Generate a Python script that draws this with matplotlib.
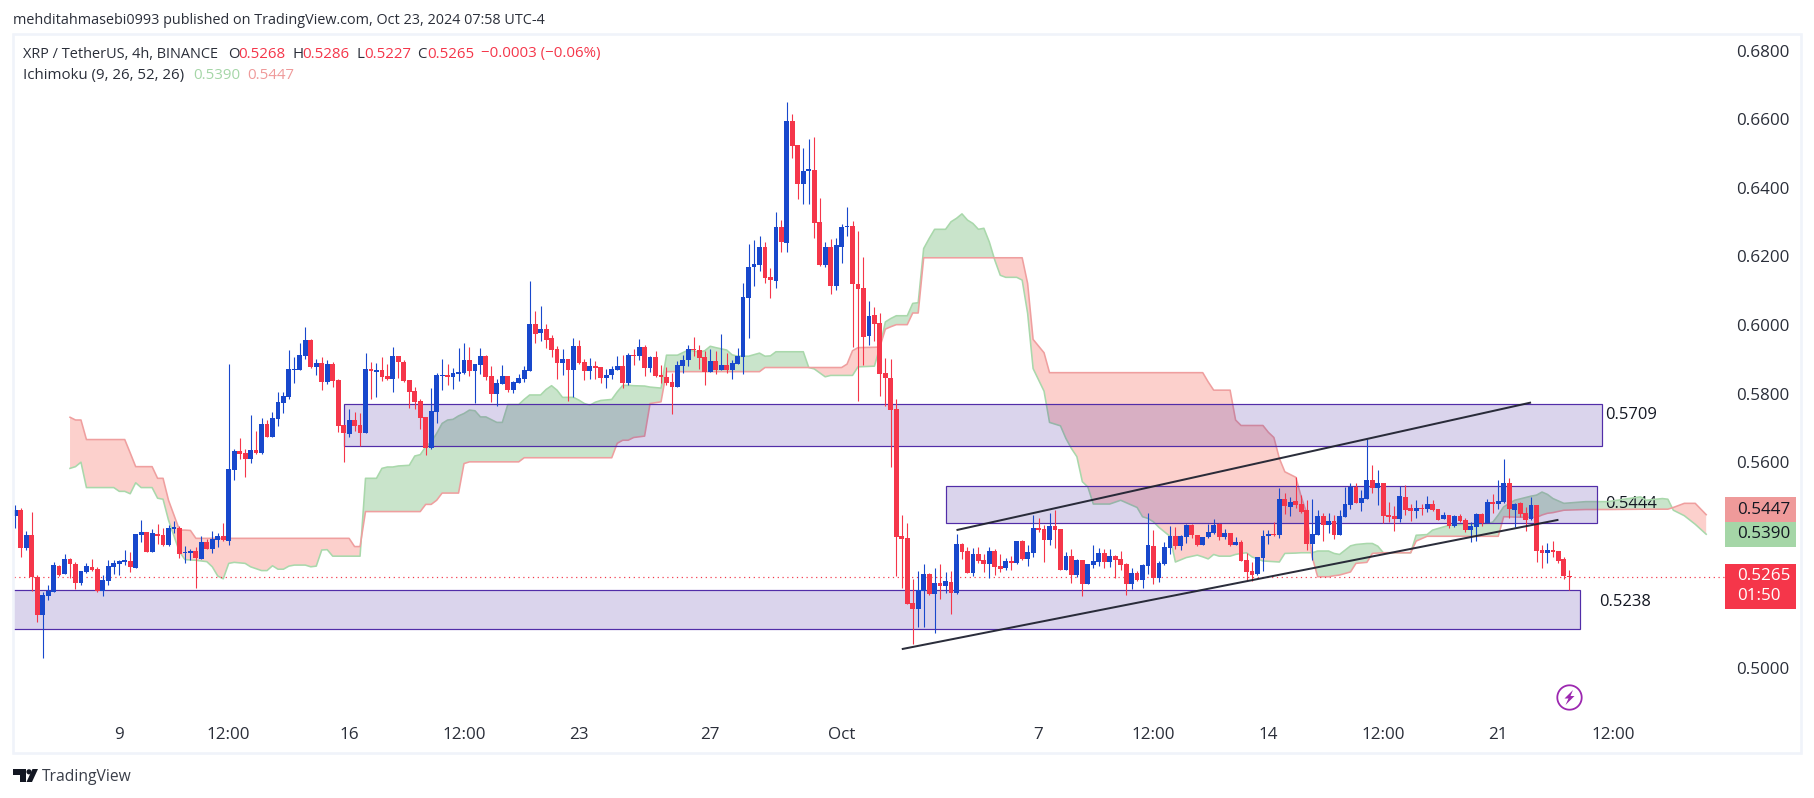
import numpy as np
import matplotlib
matplotlib.use("Agg")
import matplotlib.pyplot as plt
from matplotlib.patches import Rectangle, Polygon

plt.rcParams["font.family"] = ["Open Sans", "DejaVu Sans"]

# 4h candles, prices
opens = [
    .5443, .5460, .5350, .5387, .5266, .5155, .5210, .5222, .5297, .5274,
    .5317, .5303, .5247, .5279, .5293, .5288, .5225, .5253, .5294, .5303,
    .5309, .5311, .5291, .5387, .5396, .5338, .5390, .5387, .5358, .5405,
    .5408, .5336, .5335, .5341, .5317, .5367, .5346, .5373, .5384, .5370,
    .5577, .5632, .5626, .5609, .5635, .5626, .5711, .5673, .5725, .5772,
    .5790, .5868, .5868, .5909, .5956, .5877, .5889, .5833, .5886, .5839,
    .5708, .5682, .5723, .5708, .5685, .5871, .5863, .5868, .5851, .5842,
    .5909, .5892, .5839, .5807, .5778, .5731, .5641, .5746, .5851, .5854,
    .5848, .5857, .5860, .5898, .5865, .5883, .5909, .5851, .5798, .5828,
    .5851, .5810, .5830, .5842, .5865, .6002, .5976, .5988, .5962, .5930,
    .5889, .5900, .5868, .5938, .5892, .5865, .5880, .5877, .5845, .5854,
    .5868, .5880, .5830, .5912, .5909, .5935, .5874, .5906, .5854, .5848,
    .5833, .5819, .5880, .5898, .5930, .5927, .5906, .5863, .5895, .5868,
    .5883, .5868, .5886, .5906, .6078, .6169, .6175, .6227, .6140, .6128,
    .6285, .6239, .6594, .6524, .6411, .6449, .6452, .6300, .6175, .6227,
    .6113, .6227, .6285, .6288, .6119, .6107, .5968, .6029, .6005, .5860,
    .5845, .5755, .5384, .5379, .5189, .5172, .5224, .5274, .5215, .5247,
    .5239, .5250, .5218, .5361, .5341, .5277, .5332, .5314, .5303, .5341,
    .5297, .5291, .5312, .5306, .5370, .5317, .5335, .5408, .5405, .5373,
    .5414, .5405, .5285, .5326, .5271, .5314, .5244, .5300, .5309, .5335,
    .5309, .5326, .5317, .5303, .5244, .5277, .5256, .5297, .5355, .5262,
    .5303, .5349, .5384, .5355, .5381, .5416, .5387, .5358, .5381, .5393,
    .5419, .5381, .5393, .5358, .5367, .5314, .5282, .5274, .5320, .5384,
    .5390, .5387, .5492, .5469, .5486, .5478, .5460, .5361, .5387, .5443,
    .5416, .5428, .5387, .5440, .5475, .5527, .5481, .5492, .5548, .5524,
    .5539, .5446, .5443, .5434, .5498, .5466, .5457, .5466, .5463, .5478,
    .5463, .5434, .5446, .5414, .5443, .5431, .5402, .5411, .5449, .5422,
    .5484, .5478, .5484, .5539, .5460, .5481, .5451, .5434, .5475, .5344,
    .5335, .5344, .5341, .5317, .5268,
]
highs = [
    .5475, .5466, .5399, .5454, .5271, .5222, .5241, .5309, .5300, .5332,
    .5320, .5309, .5282, .5305, .5317, .5293, .5271, .5314, .5314, .5314,
    .5344, .5338, .5392, .5431, .5396, .5405, .5419, .5408, .5416, .5428,
    .5414, .5355, .5346, .5352, .5384, .5376, .5399, .5393, .5422, .5886,
    .5638, .5670, .5638, .5737, .5691, .5728, .5723, .5746, .5804, .5804,
    .5927, .5906, .5947, .5994, .5959, .5900, .5906, .5898, .5892, .5842,
    .5708, .5755, .5746, .5743, .5918, .5892, .5889, .5906, .5886, .5935,
    .5909, .5898, .5839, .5819, .5784, .5731, .5816, .5860, .5900, .5886,
    .5874, .5933, .5947, .5935, .5886, .5932, .5912, .5880, .5842, .5883,
    .5851, .5836, .5857, .5880, .6128, .6040, .6055, .6002, .5970, .5938,
    .5930, .5900, .5962, .5956, .5900, .5903, .5895, .5877, .5871, .5880,
    .5909, .5912, .5918, .5930, .5959, .5941, .5909, .5924, .5883, .5877,
    .5860, .5895, .5912, .5941, .5965, .5941, .5924, .5930, .5924, .5973,
    .5918, .5898, .5932, .6122, .6236, .6247, .6259, .6242, .6166, .6329,
    .6306, .6650, .6615, .6524, .6516, .6542, .6548, .6370, .6242, .6250,
    .6253, .6294, .6344, .6303, .6274, .6198, .6070, .6052, .6035, .5903,
    .5900, .5784, .5446, .5422, .5259, .5282, .5303, .5277, .5291, .5303,
    .5279, .5282, .5390, .5364, .5352, .5349, .5352, .5332, .5352, .5346,
    .5332, .5320, .5326, .5370, .5373, .5358, .5446, .5437, .5416, .5451,
    .5460, .5405, .5338, .5346, .5317, .5314, .5303, .5358, .5349, .5346,
    .5346, .5329, .5341, .5306, .5291, .5282, .5303, .5451, .5402, .5312,
    .5367, .5414, .5411, .5387, .5419, .5419, .5387, .5381, .5419, .5434,
    .5422, .5405, .5393, .5381, .5373, .5335, .5309, .5323, .5402, .5402,
    .5425, .5524, .5510, .5498, .5556, .5504, .5489, .5492, .5460, .5451,
    .5451, .5446, .5460, .5527, .5539, .5539, .5519, .5667, .5591, .5577,
    .5539, .5484, .5472, .5530, .5533, .5478, .5489, .5478, .5501, .5489,
    .5463, .5454, .5446, .5446, .5449, .5437, .5425, .5451, .5451, .5492,
    .5507, .5548, .5609, .5554, .5481, .5484, .5469, .5498, .5475, .5358,
    .5364, .5370, .5341, .5323, .5286,
]
lows = [
    .5409, .5324, .5345, .5225, .5135, .5030, .5198, .5222, .5268, .5274,
    .5263, .5230, .5241, .5277, .5282, .5222, .5210, .5241, .5274, .5271,
    .5300, .5279, .5291, .5367, .5338, .5338, .5361, .5355, .5355, .5393,
    .5320, .5306, .5314, .5233, .5317, .5346, .5335, .5352, .5370, .5358,
    .5548, .5609, .5556, .5597, .5623, .5623, .5673, .5673, .5705, .5743,
    .5784, .5830, .5868, .5900, .5874, .5854, .5810, .5828, .5819, .5688,
    .5600, .5673, .5691, .5647, .5685, .5784, .5790, .5836, .5839, .5804,
    .5845, .5833, .5758, .5755, .5696, .5621, .5638, .5714, .5810, .5825,
    .5813, .5836, .5857, .5851, .5772, .5857, .5839, .5775, .5763, .5828,
    .5804, .5801, .5830, .5833, .5865, .5947, .5953, .5932, .5906, .5842,
    .5854, .5778, .5790, .5886, .5839, .5842, .5842, .5830, .5816, .5842,
    .5868, .5816, .5825, .5883, .5898, .5851, .5863, .5848, .5830, .5825,
    .5740, .5819, .5860, .5880, .5909, .5871, .5825, .5863, .5857, .5868,
    .5860, .5842, .5886, .5857, .5962, .6113, .6157, .6122, .6078, .6107,
    .6212, .6212, .6487, .6367, .6352, .6352, .6253, .6172, .6169, .6090,
    .6102, .6180, .6259, .5935, .5778, .5883, .5941, .5953, .5793, .5763,
    .5586, .5268, .5233, .5186, .5069, .5119, .5119, .5212, .5102, .5201,
    .5218, .5157, .5215, .5317, .5277, .5268, .5306, .5279, .5262, .5271,
    .5279, .5285, .5285, .5303, .5314, .5297, .5323, .5396, .5309, .5358,
    .5349, .5285, .5285, .5247, .5265, .5209, .5244, .5291, .5297, .5291,
    .5294, .5262, .5285, .5212, .5230, .5253, .5233, .5274, .5244, .5250,
    .5300, .5332, .5346, .5344, .5364, .5379, .5355, .5358, .5379, .5390,
    .5373, .5376, .5355, .5358, .5312, .5256, .5253, .5271, .5282, .5361,
    .5384, .5379, .5449, .5443, .5466, .5451, .5344, .5314, .5387, .5370,
    .5393, .5376, .5387, .5440, .5463, .5481, .5457, .5492, .5510, .5475,
    .5422, .5425, .5399, .5425, .5446, .5428, .5437, .5446, .5454, .5457,
    .5431, .5434, .5408, .5411, .5425, .5396, .5367, .5370, .5414, .5422,
    .5451, .5463, .5481, .5437, .5411, .5440, .5399, .5431, .5309, .5291,
    .5306, .5323, .5306, .5259, .5227,
]
closes = [
    .5460, .5350, .5387, .5264, .5155, .5212, .5225, .5300, .5272, .5317,
    .5303, .5247, .5282, .5297, .5285, .5224, .5256, .5297, .5306, .5311,
    .5314, .5294, .5390, .5396, .5338, .5393, .5384, .5358, .5408, .5411,
    .5332, .5338, .5341, .5320, .5367, .5346, .5376, .5384, .5373, .5580,
    .5632, .5623, .5609, .5635, .5626, .5711, .5673, .5728, .5775, .5793,
    .5871, .5871, .5912, .5956, .5877, .5889, .5833, .5886, .5836, .5705,
    .5685, .5723, .5705, .5685, .5871, .5865, .5868, .5848, .5842, .5909,
    .5892, .5836, .5804, .5775, .5728, .5641, .5749, .5854, .5854, .5848,
    .5860, .5863, .5898, .5865, .5886, .5909, .5848, .5798, .5830, .5851,
    .5810, .5833, .5845, .5868, .6002, .5973, .5988, .5956, .5927, .5889,
    .5900, .5868, .5938, .5889, .5865, .5880, .5874, .5845, .5854, .5871,
    .5880, .5830, .5912, .5909, .5935, .5874, .5906, .5851, .5848, .5830,
    .5819, .5883, .5898, .5930, .5927, .5903, .5863, .5895, .5868, .5883,
    .5868, .5889, .5909, .6081, .6169, .6177, .6227, .6137, .6131, .6285,
    .6242, .6594, .6522, .6411, .6449, .6454, .6297, .6175, .6227, .6113,
    .6233, .6285, .6288, .6119, .6105, .5965, .6026, .6002, .5857, .5845,
    .5752, .5381, .5376, .5186, .5172, .5227, .5274, .5215, .5247, .5239,
    .5253, .5218, .5361, .5338, .5277, .5332, .5312, .5303, .5341, .5294,
    .5288, .5312, .5306, .5370, .5317, .5338, .5408, .5402, .5373, .5414,
    .5402, .5285, .5326, .5271, .5314, .5244, .5303, .5312, .5335, .5309,
    .5326, .5314, .5300, .5244, .5277, .5256, .5300, .5358, .5262, .5306,
    .5352, .5384, .5355, .5384, .5416, .5387, .5358, .5381, .5396, .5416,
    .5381, .5393, .5358, .5367, .5312, .5279, .5271, .5323, .5384, .5390,
    .5387, .5492, .5472, .5484, .5475, .5454, .5361, .5390, .5443, .5416,
    .5428, .5387, .5443, .5478, .5527, .5481, .5495, .5548, .5524, .5539,
    .5443, .5440, .5434, .5501, .5460, .5457, .5466, .5463, .5478, .5460,
    .5431, .5446, .5414, .5443, .5428, .5402, .5414, .5449, .5422, .5484,
    .5478, .5486, .5539, .5463, .5478, .5449, .5431, .5475, .5341, .5335,
    .5344, .5338, .5312, .5268, .5265,
]

# Ichimoku cloud, read at the bars where a span changes direction
cloud_bars = [
    11, 12, 13, 14, 19, 20, 21, 22, 23, 24,
    26, 27, 28, 29, 31, 32, 33, 34, 36, 37,
    38, 39, 40, 41, 43, 44, 46, 47, 48, 49,
    50, 51, 52, 54, 55, 56, 57, 58, 59, 62,
    63, 64, 65, 67, 68, 69, 70, 71, 73, 74,
    75, 76, 77, 78, 79, 80, 81, 82, 83, 84,
    85, 86, 87, 89, 90, 91, 93, 94, 95, 97,
    98, 99, 100, 101, 103, 104, 105, 106, 107, 108,
    110, 111, 112, 113, 114, 116, 117, 119, 120, 122,
    124, 126, 127, 128, 129, 131, 132, 133, 135, 137,
    138, 139, 140, 145, 146, 147, 149, 150, 152, 153,
    154, 155, 158, 159, 160, 161, 162, 164, 165, 166,
    167, 168, 169, 171, 172, 173, 174, 175, 176, 177,
    178, 179, 180, 181, 182, 184, 185, 186, 187, 189,
    190, 192, 193, 194, 195, 196, 197, 198, 201, 203,
    205, 206, 207, 208, 209, 210, 212, 213, 215, 217,
    218, 219, 220, 221, 223, 224, 225, 226, 227, 229,
    230, 231, 232, 233, 235, 236, 237, 238, 239, 241,
    242, 243, 245, 246, 248, 249, 250, 251, 256, 257,
    259, 260, 263, 266, 270, 271, 272, 273, 275, 278,
    279, 280, 281, 282, 284, 288, 292, 298, 299, 302,
    303, 304, 306, 308, 310,
]
span_a = [
    .5582, .5587, .5600, .5526, .5526, .5515, .5515, .5508, .5540, .5526,
    .5526, .5495, .5492, .5431, .5339, .5316, .5315, .5314, .5310, .5295,
    .5268, .5260, .5305, .5308, .5305, .5295, .5284, .5284, .5298, .5288,
    .5288, .5297, .5300, .5300, .5295, .5297, .5344, .5345, .5326, .5326,
    .5326, .5326, .5553, .5553, .5582, .5586, .5586, .5589, .5591, .5618,
    .5622, .5645, .5659, .5684, .5713, .5723, .5725, .5735, .5742, .5752,
    .5750, .5732, .5732, .5716, .5716, .5768, .5768, .5783, .5796, .5796,
    .5812, .5823, .5810, .5789, .5789, .5781, .5771, .5766, .5775, .5780,
    .5783, .5805, .5824, .5824, .5823, .5822, .5819, .5816, .5912, .5912,
    .5927, .5921, .5925, .5938, .5934, .5927, .5913, .5909, .5909, .5918,
    .5909, .5910, .5922, .5922, .5876, .5872, .5849, .5853, .5853, .5853,
    .5853, .5878, .5880, .5936, .6009, .6019, .6027, .6027, .6063, .6065,
    .6223, .6252, .6279, .6279, .6301, .6311, .6324, .6306, .6296, .6279,
    .6282, .6242, .6189, .6145, .6139, .6139, .6131, .6034, .5873, .5807,
    .5716, .5706, .5669, .5640, .5616, .5543, .5528, .5478, .5478, .5489,
    .5475, .5468, .5441, .5436, .5426, .5410, .5384, .5309, .5322, .5329,
    .5324, .5318, .5331, .5326, .5326, .5331, .5334, .5336, .5324, .5312,
    .5311, .5310, .5309, .5334, .5335, .5336, .5336, .5336, .5341, .5341,
    .5334, .5331, .5356, .5360, .5363, .5363, .5355, .5336, .5336, .5387,
    .5389, .5402, .5416, .5419, .5422, .5425, .5446, .5470, .5489, .5501,
    .5504, .5513, .5506, .5494, .5480, .5485, .5485, .5499, .5489, .5494,
    .5492, .5460, .5444, .5419, .5390,
]
span_b = [
    .5731, .5723, .5723, .5666, .5666, .5666, .5666, .5627, .5587, .5587,
    .5587, .5553, .5553, .5489, .5402, .5402, .5401, .5378, .5378, .5378,
    .5378, .5378, .5378, .5378, .5378, .5378, .5378, .5378, .5378, .5378,
    .5378, .5378, .5378, .5378, .5378, .5378, .5378, .5378, .5378, .5378,
    .5354, .5354, .5456, .5456, .5456, .5456, .5456, .5456, .5456, .5456,
    .5456, .5477, .5477, .5489, .5510, .5510, .5510, .5510, .5596, .5601,
    .5601, .5601, .5601, .5601, .5601, .5601, .5601, .5613, .5613, .5613,
    .5613, .5613, .5613, .5613, .5613, .5613, .5613, .5613, .5613, .5613,
    .5613, .5655, .5664, .5664, .5672, .5676, .5771, .5776, .5864, .5864,
    .5864, .5864, .5864, .5864, .5864, .5864, .5864, .5864, .5864, .5864,
    .5876, .5876, .5876, .5876, .5876, .5876, .5876, .5876, .5876, .5886,
    .5925, .5934, .5935, .5936, .5988, .5995, .6001, .6001, .6035, .6035,
    .6196, .6196, .6196, .6196, .6196, .6196, .6196, .6196, .6196, .6196,
    .6196, .6196, .6196, .6196, .6196, .6196, .6196, .6121, .5958, .5919,
    .5861, .5861, .5861, .5861, .5861, .5861, .5861, .5861, .5861, .5861,
    .5861, .5861, .5861, .5861, .5861, .5861, .5861, .5861, .5861, .5861,
    .5861, .5834, .5810, .5810, .5810, .5723, .5707, .5707, .5707, .5707,
    .5687, .5672, .5611, .5572, .5556, .5499, .5451, .5324, .5266, .5266,
    .5269, .5271, .5280, .5305, .5308, .5334, .5335, .5336, .5336, .5370,
    .5384, .5384, .5384, .5384, .5384, .5384, .5384, .5441, .5440, .5439,
    .5439, .5446, .5451, .5453, .5460, .5462, .5462, .5463, .5463, .5463,
    .5463, .5468, .5480, .5480, .5447,
]

# drawn zones: first bar, last bar, low, high
zone_starts = [61, 171, 0]
zone_ends = [291, 290, 287]
zone_lows = [.5646, .5424, .5115]
zone_highs = [.5770, .5532, .5226]
zone_texts = ["0.5709", "0.5444", "0.5238"]
zone_text_bars = [291.5, 291.5, 290.4]
zone_text_prices = [.5737, .5479, .5192]

# channel lines: bars and prices at both ends
upper_bars = [173, 278]
upper_prices = [.5402, .5774]
lower_bars = [163, 283]
lower_prices = [.5055, .5432]

last_close = .5265
price_ticks = [.68, .66, .64, .62, .60, .58, .56, .50]
time_ticks = [20, 40, 62, 83, 104, 128, 152, 188, 209, 230, 251, 272, 293]
time_labels = ["9", "12:00", "16", "12:00", "23", "27", "Oct", "7", "12:00", "14", "12:00", "21", "12:00"]

W, H = 1814, 798
BLUE = "#1848cc"
RED = "#f5364a"
INK = "#131722"
GREY = "#2a2e39"


def fx(x):
    return x / W


def fy(y):
    return 1 - y / H


def pt(px):
    return px * 0.72


def pts(*xy):
    return [(fx(x), fy(y)) for x, y in xy]


def circle(cx, cy, r, n=60):
    return pts(*[(cx + r * np.cos(t), cy + r * np.sin(t)) for t in np.linspace(0, 2 * np.pi, n)])


fig = plt.figure(figsize=(W / 100, H / 100), dpi=100, facecolor="white")

# outer frame of the published chart
fig.add_artist(Rectangle((fx(12.5), fy(752.5)), fx(1801 - 12.5), (752.5 - 34) / H,
                         transform=fig.transFigure, fill=False, ec="#f0f3fa", lw=pt(2.6)))

ax = fig.add_axes([fx(14), fy(716), fx(1725 - 14), (716 - 36) / H])
ax.patch.set_alpha(0)
for s in ax.spines.values():
    s.set_visible(False)
ax.set_xlim(0.762, 313.44)
ax.set_ylim(0.486, 0.68426)

# cloud
a = np.array(span_a)
b = np.array(span_b)
ax.fill_between(cloud_bars, a, b, where=a >= b, interpolate=True, color="#c9e4cb", lw=0, zorder=1)
ax.fill_between(cloud_bars, a, b, where=a <= b, interpolate=True, color="#fcd0cc", lw=0, zorder=1)

# zone labels sit under the cloud lines
for t, x, y in zip(zone_texts, zone_text_bars, zone_text_prices):
    ax.text(x, y, t, fontsize=pt(16.5), color=INK, va="center", ha="left", zorder=1.1)

ax.plot(cloud_bars, a, color="#a9d8ab", lw=pt(1.6), zorder=1.2)
ax.plot(cloud_bars, b, color="#ef9f9f", lw=pt(1.6), zorder=1.3)

# zones
for x0, x1, lo, hi in zip(zone_starts, zone_ends, zone_lows, zone_highs):
    ax.add_patch(Rectangle((x0, lo), x1 - x0, hi - lo, fc=(0.29, 0.17, 0.63, 0.2), ec="#512da8",
                           lw=pt(1.2), zorder=2))

ax.axhline(last_close, color=RED, lw=pt(1.2), ls=(0, (1, 3)), zorder=2.5)

# candles
o = np.array(opens)
h = np.array(highs)
l = np.array(lows)
c = np.array(closes)
bars = np.arange(1, len(o) + 1)
colors = np.where(c >= o, BLUE, RED)
ax.vlines(bars, l, h, colors=colors, lw=pt(1.1), zorder=3)
ax.bar(bars, np.abs(c - o), bottom=np.minimum(o, c), width=0.88, color=colors, lw=0, zorder=3.1)

# channel
ax.plot(upper_bars, upper_prices, color="#1f2230", lw=pt(2), alpha=0.95, zorder=4, solid_capstyle="butt")
ax.plot(lower_bars, lower_prices, color="#1f2230", lw=pt(2), alpha=0.95, zorder=4, solid_capstyle="butt")

# axes
ax.yaxis.tick_right()
ax.set_yticks(price_ticks)
ax.set_yticklabels([f"{p:.4f}" for p in price_ticks], fontsize=pt(17), color=GREY)
ax.set_xticks(time_ticks)
ax.set_xticklabels(time_labels, fontsize=pt(17), color=GREY)
ax.tick_params(axis="y", length=0, pad=8)
ax.tick_params(axis="x", length=0, pad=8)

# header
fig.text(fx(13), fy(21), "mehditahmasebi0993 published on TradingView.com, Oct 23, 2024 07:58 UTC-4",
         fontsize=pt(14.4), color=GREY, va="center")
fig.text(fx(23), fy(54), "XRP / TetherUS, 4h, BINANCE", fontsize=pt(14.5), color=GREY, va="center")
legend_parts = [
    (228.5, "O", GREY), (238, "0.5268", RED),
    (292.5, "H", GREY), (302.5, "0.5286", RED), (356, "L", GREY), (364, "0.5227", RED),
    (417.5, "C", GREY), (427, "0.5265", RED), (481, "\u22120.0003 (\u22120.06%)", RED),
]
for x, s, col in legend_parts:
    fig.text(fx(x), fy(54), s, fontsize=pt(15), color=col, va="center")
for x, s, col in [(23, "Ichimoku (9, 26, 52, 26)", GREY), (193, "0.5390", "#a5d6a7"), (247, "0.5447", "#ef9a9a")]:
    fig.text(fx(x), fy(75.5), s, fontsize=pt(15), color=col, va="center")

# price tags
tags = [(497, 522, "#ef9a9a"), (522, 547, "#a5d6a7"), (564, 609, RED)]
for y0, y1, col in tags:
    fig.add_artist(Rectangle((fx(1725), fy(y1)), fx(71), (y1 - y0) / H, transform=fig.transFigure,
                             fc=col, ec="none"))
fig.text(fx(1737), fy(509.5), "0.5447", fontsize=pt(17), color=INK, va="center")
fig.text(fx(1737), fy(534.5), "0.5390", fontsize=pt(17), color=INK, va="center")
fig.text(fx(1737), fy(576.5), "0.5265", fontsize=pt(17), color="white", va="center")
fig.text(fx(1737), fy(596.5), "01:50", fontsize=pt(17), color="white", va="center")

# lightning badge
fig.add_artist(Polygon(circle(1569.5, 697.5, 12.2), closed=True, transform=fig.transFigure,
                       fill=False, ec="#9c27b0", lw=pt(1.8)))
fig.add_artist(Polygon(pts((1573, 690), (1564.5, 698.5), (1568.5, 698.5), (1565.5, 705),
                           (1574.5, 696), (1570.5, 696)),
                       closed=True, transform=fig.transFigure, fc="#9c27b0", ec="none"))

# TradingView mark
fig.add_artist(Polygon(pts((13, 769), (26, 769), (26, 782), (19.5, 782), (19.5, 775), (13, 775)),
                       closed=True, transform=fig.transFigure, fc=INK, ec="none"))
fig.add_artist(Polygon(pts((32.5, 769), (38, 769), (32, 782), (26.5, 782)),
                       closed=True, transform=fig.transFigure, fc=INK, ec="none"))
fig.add_artist(Polygon(circle(29, 771.8, 2.6, 24), closed=True, transform=fig.transFigure,
                       fc=INK, ec="none"))
fig.text(fx(42), fy(777), "TradingView", fontsize=pt(15.6), color="#3a3e49", va="center")

fig.savefig("out.png", dpi=100)
